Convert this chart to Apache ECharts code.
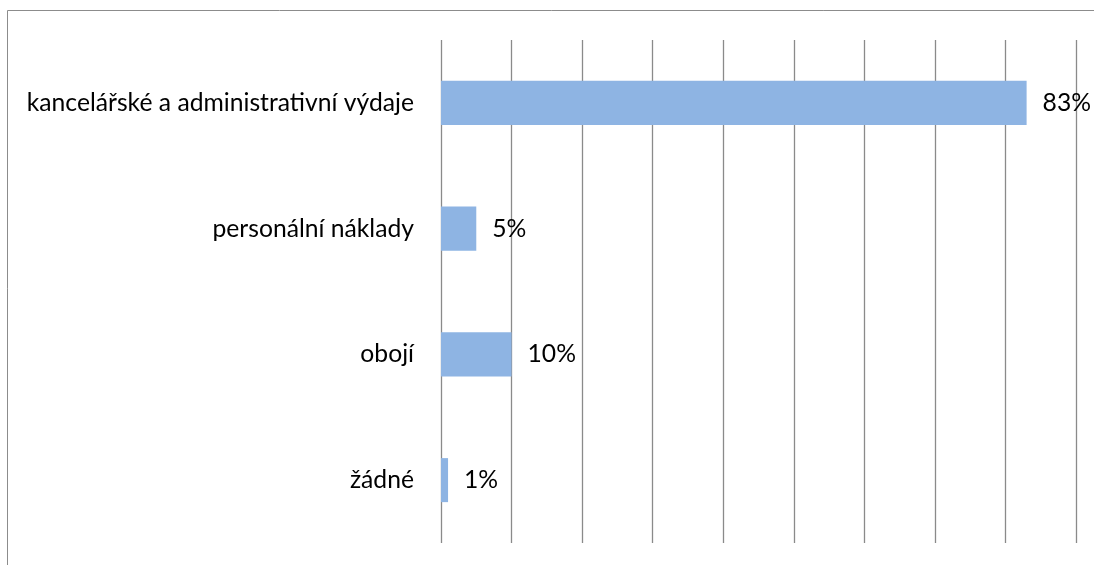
<!DOCTYPE html>
<html>
<head>
<meta charset="utf-8">
<script src="https://cdn.jsdelivr.net/npm/echarts@6/dist/echarts.min.js"></script>
<style>
  html, body { margin: 0; padding: 0; background: #fff; }
  #chart { width: 1094px; height: 565px; }
</style>
</head>
<body>
<div id="chart"></div>
<script>
// Categories, top to bottom
const categories = ['kancelářské a administrativní výdaje', 'personální náklady', 'obojí', 'žádné'];
// Share of responses, in percent
const values = [83, 5, 10, 1];
// Value axis range (percent)
const axisMin = 0;
const axisMax = 90;
const axisStep = 10;

const FONT = 'Lato, "Open Sans", sans-serif';

const chart = echarts.init(document.getElementById('chart'), null, { renderer: 'canvas' });
chart.setOption({
  backgroundColor: '#ffffff',
  animation: false,
  graphic: [{
    type: 'rect',
    silent: true,
    shape: { x: 7.5, y: 10.5, width: 1300, height: 800 },
    style: { fill: 'none', stroke: '#8c8c8c', lineWidth: 1 }
  }],
  grid: { left: 441, right: 18, top: 40, bottom: 22, containLabel: false },
  xAxis: {
    type: 'value',
    min: axisMin,
    max: axisMax,
    interval: axisStep,
    axisLabel: { show: false },
    axisLine: { show: false },
    axisTick: { show: false },
    splitLine: { show: true, lineStyle: { color: '#8a8a8a', width: 1.3 } }
  },
  yAxis: {
    type: 'category',
    data: categories,
    inverse: true,
    axisLine: { show: false },
    axisTick: { show: false },
    axisLabel: { color: '#000', fontFamily: FONT, fontSize: 24.7, margin: 27 }
  },
  series: [{
    type: 'bar',
    data: values,
    barWidth: '35%',
    itemStyle: { color: '#8eb4e3' },
    label: {
      show: true,
      position: 'right',
      distance: 16,
      formatter: p => p.value + '%',
      color: '#000',
      fontFamily: FONT,
      fontSize: 24.7
    }
  }]
});
</script>
</body>
</html>
